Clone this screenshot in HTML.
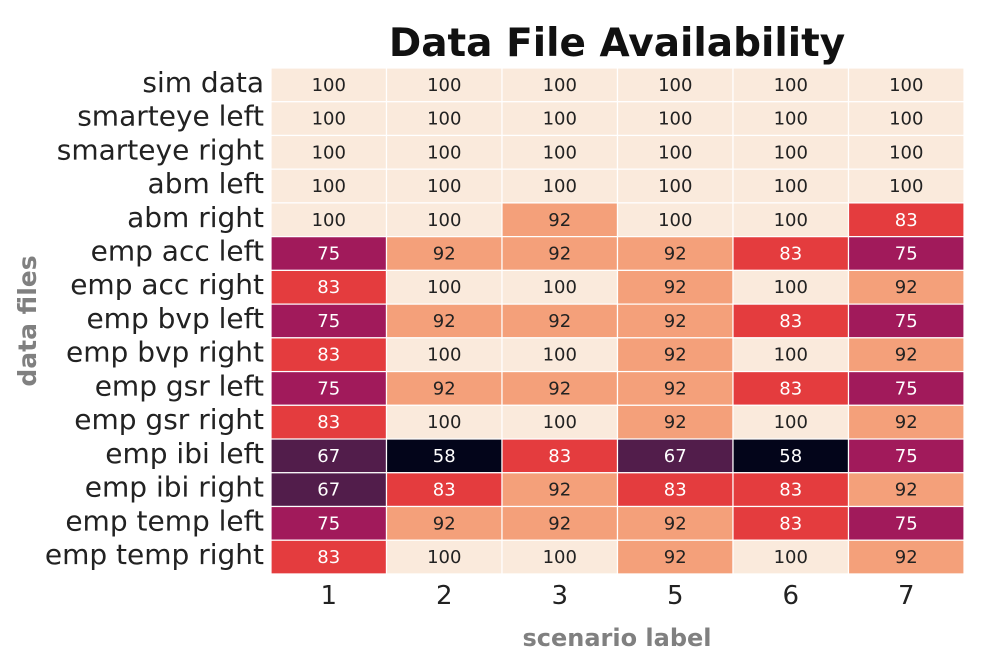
<!DOCTYPE html>
<html><head><meta charset="utf-8"><style>
body{margin:0;background:#fff;width:1000px;height:667px;overflow:hidden;font-family:"DejaVu Sans","Liberation Sans",sans-serif}
</style></head><body>
<svg id="chart" width="1000" height="667">
<text x="617" y="56" text-anchor="middle" font-size="39" font-weight="bold" fill="#111">Data File Availability</text>
<text x="617" y="646" text-anchor="middle" font-size="24" font-weight="bold" fill="#808080">scenario label</text>
<text transform="translate(36,321) rotate(-90)" text-anchor="middle" font-size="25" font-weight="bold" fill="#808080">data files</text>
<g id="cells"></g>
</svg>
<script>
const categories = ["1","2","3","5","6","7"];
const rows = ["sim data","smarteye left","smarteye right","abm left","abm right","emp acc left","emp acc right","emp bvp left","emp bvp right","emp gsr left","emp gsr right","emp ibi left","emp ibi right","emp temp left","emp temp right"];
const values = [
[100,100,100,100,100,100],
[100,100,100,100,100,100],
[100,100,100,100,100,100],
[100,100,100,100,100,100],
[100,100,92,100,100,83],
[75,92,92,92,83,75],
[83,100,100,92,100,92],
[75,92,92,92,83,75],
[83,100,100,92,100,92],
[75,92,92,92,83,75],
[83,100,100,92,100,92],
[67,58,83,67,58,75],
[67,83,92,83,83,92],
[75,92,92,92,83,75],
[83,100,100,92,100,92]];
const gLeft=271, gTop=68, cw=115.5, rh=33.73;
function xPos(i){return gLeft+i*cw;}
function yPos(j){return gTop+j*rh;}
function color(v){
  if(v>=100) return "#faeadc";
  if(v>=92) return "#f4a07a";
  if(v>=83) return "#e43c3e";
  if(v>=75) return "#a11a5b";
  if(v>=67) return "#521d4b";
  return "#03051a";
}
const ns="http://www.w3.org/2000/svg";
const g=document.getElementById("cells");
const svg=document.getElementById("chart");
rows.forEach((r,j)=>{
  const t=document.createElementNS(ns,"text");
  t.setAttribute("x",264);t.setAttribute("y",yPos(j)+rh/2+7);
  t.setAttribute("text-anchor","end");t.setAttribute("font-size","28");t.setAttribute("fill","#222");
  t.textContent=r;
  
  
  svg.appendChild(t);
  values[j].forEach((v,i)=>{
    const c=document.createElementNS(ns,"rect");
    c.setAttribute("x",xPos(i));c.setAttribute("y",yPos(j));
    c.setAttribute("width",cw);c.setAttribute("height",rh);
    c.setAttribute("fill",color(v));c.setAttribute("stroke","#fff");c.setAttribute("stroke-width","1.2");
    
    
    g.appendChild(c);
    const l=document.createElementNS(ns,"text");
    l.setAttribute("x",xPos(i)+cw/2);l.setAttribute("y",yPos(j)+rh/2+6);
    l.setAttribute("text-anchor","middle");l.setAttribute("font-size","18");
    l.setAttribute("fill",v>=92?"#222":"#fff");
    l.textContent=v;
    
    
    g.appendChild(l);
  });
});
categories.forEach((c,i)=>{
  const t=document.createElementNS(ns,"text");
  t.setAttribute("x",xPos(i)+cw/2);t.setAttribute("y",604);
  t.setAttribute("text-anchor","middle");t.setAttribute("font-size","26");t.setAttribute("fill","#222");
  t.textContent=c;
  
  
  svg.appendChild(t);
});
</script>
</body></html>
